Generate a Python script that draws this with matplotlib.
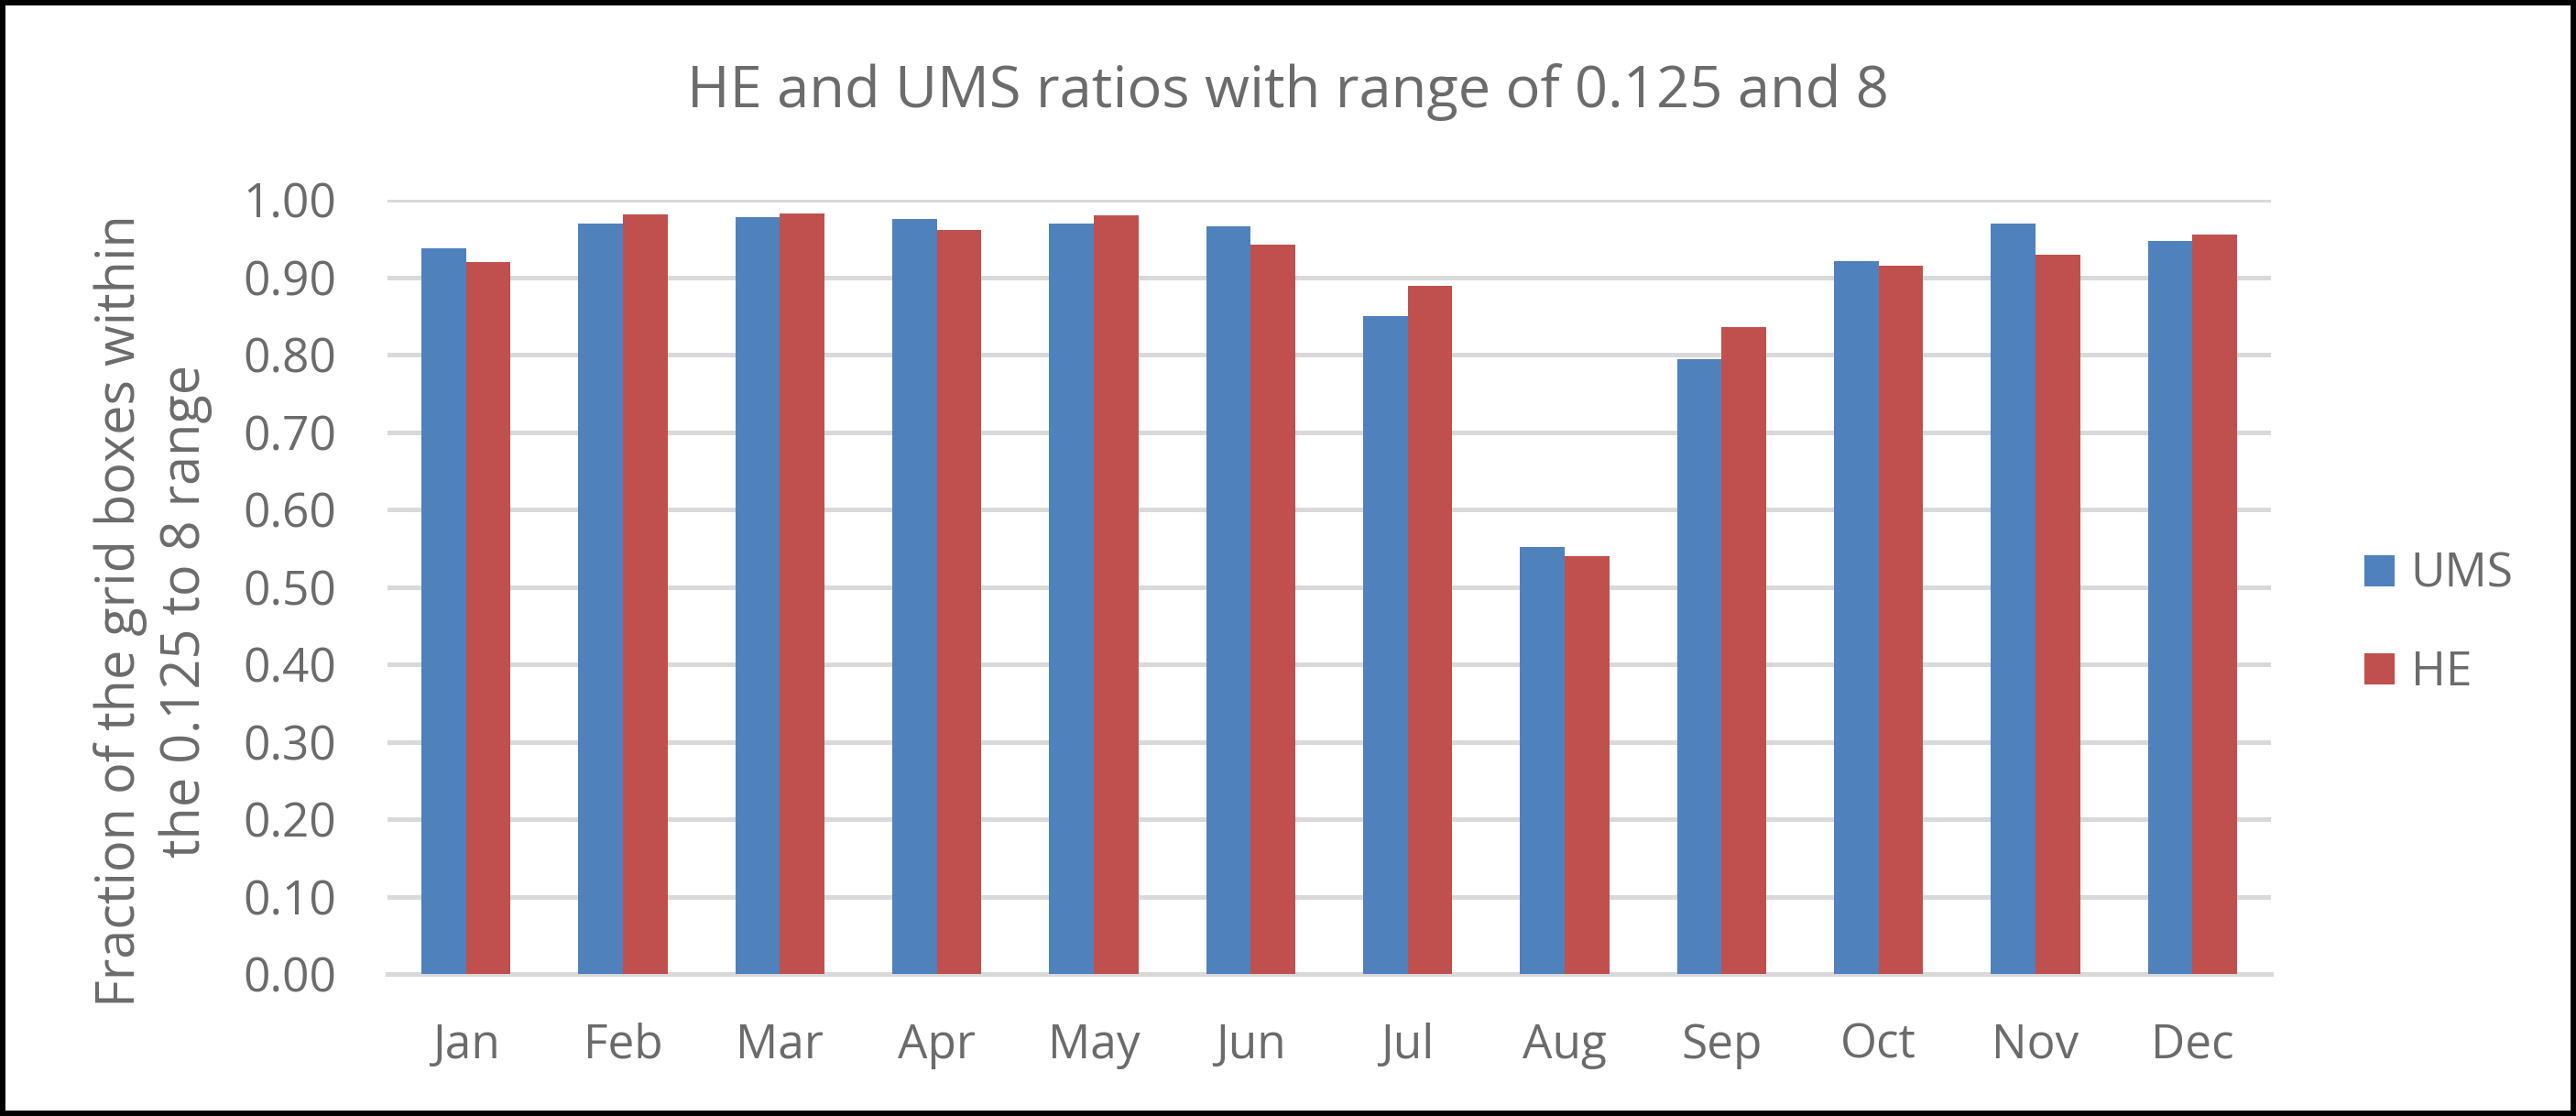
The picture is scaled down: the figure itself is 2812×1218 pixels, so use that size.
import matplotlib
matplotlib.use("Agg")
import matplotlib.pyplot as plt
from matplotlib.patches import Rectangle
import numpy as np

months = ["Jan", "Feb", "Mar", "Apr", "May", "Jun", "Jul", "Aug", "Sep", "Oct", "Nov", "Dec"]
ums = [0.938, 0.970, 0.978, 0.975, 0.970, 0.966, 0.850, 0.552, 0.794, 0.921, 0.969, 0.947]
he = [0.920, 0.982, 0.983, 0.961, 0.980, 0.942, 0.889, 0.540, 0.836, 0.915, 0.929, 0.955]
yticks = [0.0, 0.1, 0.2, 0.3, 0.4, 0.5, 0.6, 0.7, 0.8, 0.9, 1.0]
title = "HE and UMS ratios with range of 0.125 and 8"
ylabel = "Fraction of the grid boxes within\nthe 0.125 to 8 range"

plt.rcParams['font.family'] = ['Open Sans', 'DejaVu Sans']
TXT = '#6B6B6B'
C_UMS = '#4F81BD'
C_HE = '#C0504D'
GRID = '#D9D9D9'

W, H = 2812, 1218
fig = plt.figure(figsize=(W / 100, H / 100), dpi=100)
ax = fig.add_axes([423 / W, 1 - 1063 / H, (2479 - 423) / W, (1063 - 218.3) / H])

x = np.arange(len(months))
bw = 0.285
ax.bar(x - bw / 2, ums, bw, color=C_UMS, label="UMS", zorder=3)
ax.bar(x + bw / 2, he, bw, color=C_HE, label="HE", zorder=3)

ax.set_xlim(-0.5, len(months) - 0.5)
ax.set_ylim(0, 1.0)
ax.set_yticks(yticks)
ax.set_yticklabels([f"{v:.2f}" for v in yticks])
ax.set_xticks(x)
ax.set_xticklabels(months)
ax.yaxis.grid(True, color=GRID, linewidth=3.6, zorder=0)
ax.set_axisbelow(True)
for s in ax.spines.values():
    s.set_visible(False)
ax.axhline(0, color=GRID, linewidth=3.6, zorder=1, clip_on=False)
ax.tick_params(axis='both', length=0, labelsize=37, colors=TXT)
ax.tick_params(axis='y', pad=40)
ax.tick_params(axis='x', pad=38)

fig.text(0.5, 1 - 117 / H, title, ha='center', va='baseline', fontsize=45.5, color=TXT)
fig.text(167 / W, 1 - 667 / H, ylabel, rotation=90, ha='center', va='center',
         multialignment='center', fontsize=41.5, color=TXT, linespacing=1.26)

fig.legend(loc='center left', bbox_to_anchor=(2581 / W, 1 - 681 / H), frameon=False,
           fontsize=37, labelcolor=TXT, handlelength=0.64, handleheight=0.64,
           handletextpad=0.35, labelspacing=1.1, borderpad=0, borderaxespad=0)

fig.patches.append(Rectangle((0, 0), 1, 1, transform=fig.transFigure, fill=False,
                             edgecolor='black', linewidth=8.5, zorder=10))

fig.savefig("out.png", dpi=100, facecolor='white')
